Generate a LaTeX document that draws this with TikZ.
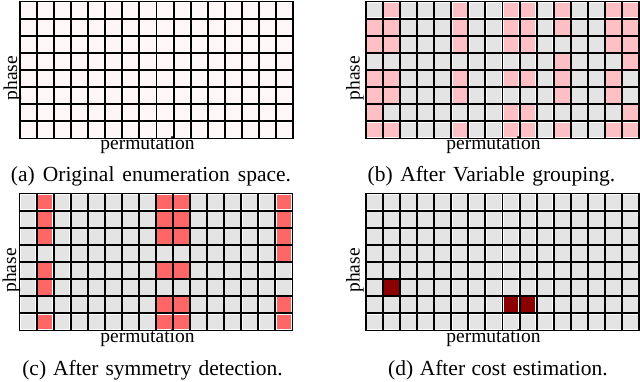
\documentclass[tikz,border=0pt]{standalone}
\usepackage{fontspec}
\setmainfont{Liberation Serif}
\definecolor{basea}{RGB}{255,246,248}
\definecolor{cellgray}{RGB}{228,228,228}
\definecolor{cellpink}{RGB}{255,192,197}
\definecolor{cellred}{RGB}{255,102,102}
\definecolor{celldark}{RGB}{139,0,0}
\tikzset{
  gridline/.style={black, line width=1.9pt, line cap=rect},
  axislabel/.style={font=\fontsize{19.5}{22}\selectfont, inner sep=0pt},
  captionlabel/.style={font=\fontsize{21.5}{25}\selectfont, inner sep=0pt, anchor=base},
}
\newcommand\cw{17.0625}
\newcommand\ch{17.125}
\newcommand\ci{1.2}
% \gridpanel{x left}{y top}{base colour}{mark colour}{list of col/row}
\newcommand\gridpanel[5]{%
  \begin{scope}[shift={(#1,#2)}]
    \fill[white] (0,0) rectangle (16*\cw,-8*\ch);
    \foreach \c in {0,...,15}{\foreach \r in {0,...,7}{%
      \fill[#3] (\c*\cw+\ci,-\r*\ch-\ci) rectangle (\c*\cw+\cw-\ci,-\r*\ch-\ch+\ci);}}
    \foreach \c/\r in {#5}{%
      \fill[#4] (\c*\cw+\ci,-\r*\ch-\ci) rectangle (\c*\cw+\cw-\ci,-\r*\ch-\ch+\ci);}
    \foreach \i in {0,...,16} \draw[gridline] (\i*\cw,0) -- (\i*\cw,-8*\ch);
    \foreach \j in {0,...,8} \draw[gridline] (0,-\j*\ch) -- (16*\cw,-\j*\ch);
  \end{scope}}
\begin{document}
\begin{tikzpicture}[x=1pt,y=1pt]
\useasboundingbox (0,0) rectangle (640,382);
% (a)
\gridpanel{20}{380.5}{basea}{basea}{0/0}
% (b)
\gridpanel{366}{380.5}{cellgray}{cellpink}{%
1/0,5/0,8/0,9/0,11/0,14/0,15/0,
0/1,1/1,5/1,8/1,9/1,11/1,14/1,15/1,
0/2,1/2,5/2,8/2,9/2,14/2,15/2,
11/3,15/3,
0/4,1/4,5/4,8/4,9/4,11/4,14/4,
0/5,1/5,5/5,11/5,14/5,
0/6,8/6,9/6,15/6,
0/7,1/7,5/7,8/7,9/7,11/7,14/7,15/7}
% (c)
\gridpanel{19.5}{188.5}{cellgray}{cellred}{%
1/0,8/0,9/0,15/0,
1/1,8/1,9/1,15/1,
1/2,8/2,9/2,15/2,
15/3,
1/4,8/4,9/4,
1/5,
8/6,9/6,15/6,
1/7,8/7,9/7,15/7}
% (d)
\gridpanel{366}{188.5}{cellgray}{celldark}{1/5,8/6,9/6}
% axis labels
\node[axislabel, anchor=base] (perma) at (147.5,232) {permutation};
\node[axislabel, anchor=base] (permb) at (493.5,232) {permutation};
\node[axislabel, anchor=base] (permc) at (147.5,39.5) {permutation};
\node[axislabel, anchor=base] (permd) at (493.5,39.5) {permutation};
\node[axislabel, rotate=90] (phasea) at (12.5,304) {phase};
\node[axislabel, rotate=90] (phaseb) at (355,304) {phase};
\node[axislabel, rotate=90] (phasec) at (11.5,111.5) {phase};
\node[axislabel, rotate=90] (phased) at (355,111.5) {phase};
% captions
\node[captionlabel] (capa) at (151,200.5) {\spaceskip=8pt (a) Original enumeration space.};
\node[captionlabel] (capb) at (491.5,200.5) {\spaceskip=7.5pt (b) After Variable grouping.};
\node[captionlabel] (capc) at (152.5,6.5) {\spaceskip=7pt (c) After symmetry detection.};
\node[captionlabel] (capd) at (498,6.5) {\spaceskip=6.5pt (d) After cost estimation.};
\end{tikzpicture}
\end{document}
